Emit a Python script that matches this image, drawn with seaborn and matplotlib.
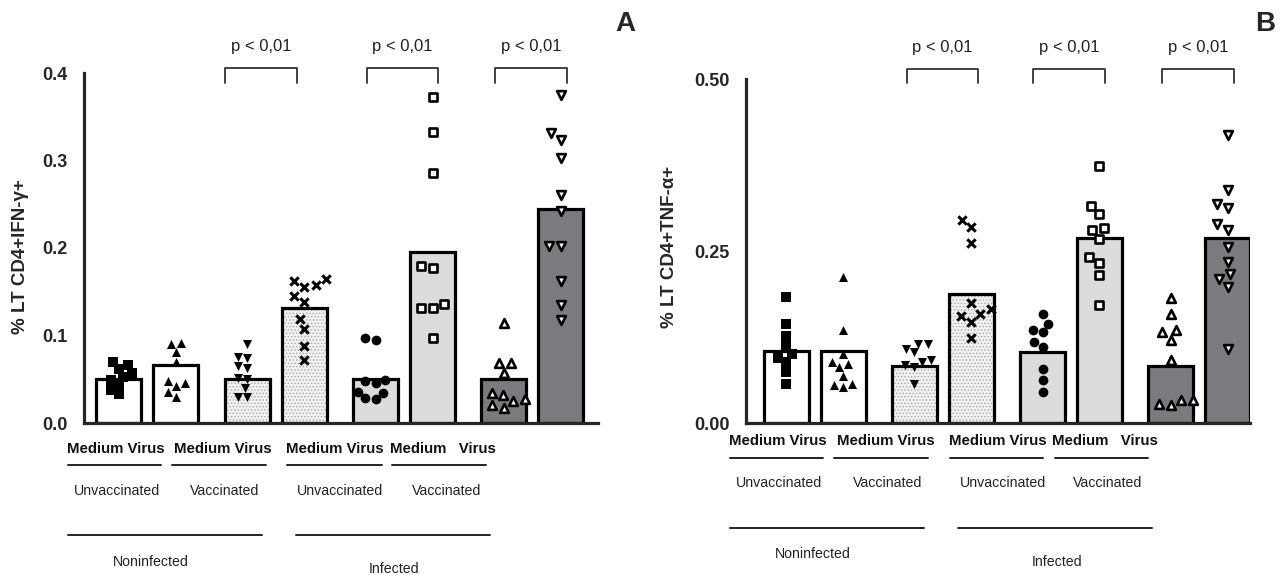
import matplotlib
matplotlib.use("Agg")
import matplotlib.pyplot as plt
import seaborn as sns
from matplotlib.lines import Line2D
from matplotlib import font_manager
from matplotlib.colors import to_rgba

# ---------------- data ----------------
bar_pos = [0, 1, 2.25, 3.25, 4.5, 5.5, 6.75, 7.75]
bar_fill = ['white', 'white', '#f1f1f1', '#f1f1f1', '#dbdcde', '#dbdcde', '#7a7b7e', '#7a7b7e']
bar_stipple = [False, False, True, True, False, False, False, False]
markers = ['s', '^', 'v', 'x', 'o', 's', '^', 'v']
filled = [True, True, True, True, True, False, False, False]

ifn_bars = [0.050, 0.066, 0.050, 0.131, 0.050, 0.196, 0.050, 0.245]
ifn_g1 = [0.070, 0.066, 0.062, 0.057, 0.053, 0.049, 0.044, 0.038, 0.033]
ifn_g2 = [0.092, 0.090, 0.081, 0.070, 0.048, 0.046, 0.042, 0.036, 0.030]
ifn_g3 = [0.090, 0.076, 0.074, 0.065, 0.063, 0.051, 0.050, 0.040, 0.030, 0.030]
ifn_g4 = [0.165, 0.162, 0.158, 0.155, 0.145, 0.138, 0.119, 0.107, 0.088, 0.072]
ifn_g5 = [0.097, 0.095, 0.049, 0.048, 0.046, 0.036, 0.034, 0.029, 0.027]
ifn_g6 = [0.373, 0.333, 0.286, 0.179, 0.177, 0.136, 0.131, 0.131, 0.097]
ifn_g7 = [0.114, 0.069, 0.069, 0.057, 0.034, 0.032, 0.027, 0.025, 0.021, 0.017]
ifn_g8 = [0.375, 0.331, 0.324, 0.303, 0.261, 0.242, 0.202, 0.202, 0.162, 0.135, 0.118]
ifn_points = [ifn_g1, ifn_g2, ifn_g3, ifn_g4, ifn_g5, ifn_g6, ifn_g7, ifn_g8]

tnf_bars = [0.105, 0.105, 0.083, 0.187, 0.103, 0.269, 0.083, 0.269]
tnf_g1 = [0.183, 0.144, 0.126, 0.112, 0.100, 0.094, 0.089, 0.074, 0.057]
tnf_g2 = [0.212, 0.135, 0.101, 0.089, 0.086, 0.081, 0.069, 0.057, 0.055, 0.052]
tnf_g3 = [0.115, 0.115, 0.108, 0.103, 0.091, 0.089, 0.085, 0.081, 0.057]
tnf_g4 = [0.295, 0.285, 0.261, 0.175, 0.165, 0.158, 0.156, 0.147, 0.123]
tnf_g5 = [0.159, 0.144, 0.135, 0.132, 0.118, 0.110, 0.079, 0.062, 0.045]
tnf_g6 = [0.374, 0.316, 0.304, 0.284, 0.281, 0.268, 0.241, 0.232, 0.215, 0.171]
tnf_g7 = [0.181, 0.159, 0.135, 0.132, 0.120, 0.091, 0.033, 0.033, 0.028, 0.026]
tnf_g8 = [0.418, 0.338, 0.319, 0.312, 0.289, 0.280, 0.256, 0.234, 0.217, 0.210, 0.198, 0.108]
tnf_points = [tnf_g1, tnf_g2, tnf_g3, tnf_g4, tnf_g5, tnf_g6, tnf_g7, tnf_g8]

ifn_ticks = [0.0, 0.1, 0.2, 0.3, 0.4]
ifn_ticklabels = ['0.0', '0.1', '0.2', '0.3', '0.4']
tnf_ticks = [0.0, 0.25, 0.5]
tnf_ticklabels = ['0.00', '0.25', '0.50']

pair_labels = ['Medium Virus', 'Medium Virus', 'Medium Virus', 'Medium   Virus']
vacc_labels = ['Unvaccinated', 'Vaccinated', 'Unvaccinated', 'Vaccinated']
infect_labels = ['Noninfected', 'Infected']
p_text = 'p < 0,01'

# ---------------- style ----------------
W, H = 1281, 575
sns.set_style('white')
names = {f.name for f in font_manager.fontManager.ttflist}
narrow = 'Liberation Sans Narrow' in names
lab_family = ['Liberation Sans Narrow' if narrow else 'Liberation Sans', 'DejaVu Sans']
pair_size = 12 if narrow else 10.8
small_size = 11 if narrow else 10.2
plt.rcParams['font.family'] = ['Liberation Sans', 'DejaVu Sans']
plt.rcParams['hatch.linewidth'] = 0.6

fig = plt.figure(figsize=(W / 100, H / 100), dpi=100)


def fx(px):
    return px / W


def fy(py):
    return 1 - py / H


def draw_panel(ax, heights, points, ticks, ticklabels, ylim, xlim, ylabel, label_xy,
               brackets, br_y, p_y):
    sns.barplot(x=bar_pos, y=heights, native_scale=True, width=0.79, color='white',
                edgecolor='black', linewidth=2.3, errorbar=None, ax=ax, zorder=2)
    for patch, fc, st in zip(ax.patches, bar_fill, bar_stipple):
        patch.set_facecolor(fc)
        patch.set_alpha(None)
        if st:
            patch.set_hatch('.....')
            patch._hatch_color = to_rgba('#a9a9a9')

    for i, (vals, x) in enumerate(zip(points, bar_pos)):
        m = markers[i]
        kw = dict(marker=m, zorder=5, ax=ax, native_scale=True)
        if m == 'x':
            kw.update(color='black', linewidth=2.2, size=6)
        elif filled[i]:
            kw.update(color='black', linewidth=0, size=7 if m == 'o' else 6.5)
        else:
            kw.update(color='white', edgecolor='black', linewidth=1.9, size=6.3)
        sns.swarmplot(x=[x] * len(vals), y=vals, **kw)

    ax.set_xlim(*xlim)
    ax.set_ylim(*ylim)
    ax.set_xticks([])
    ax.set_yticks(ticks, labels=ticklabels)
    ax.tick_params(axis='y', direction='in', length=5, width=2, pad=12,
                   labelsize=13)
    for t in ax.get_yticklabels():
        t.set_fontweight('bold')
    sns.despine(ax=ax)
    for s in ['left', 'bottom']:
        ax.spines[s].set_linewidth(2.3)
    ax.set_ylabel(ylabel, fontsize=13.5, fontweight='bold')
    ax.yaxis.label.set_va('center')
    ax.yaxis.set_label_coords(*label_xy)
    ax.set_xlabel('')

    for (x0, x1) in brackets:
        ax.plot([x0, x0, x1, x1], [br_y[0], br_y[1], br_y[1], br_y[0]],
                color='#333333', lw=1.3, clip_on=False)
        ax.text((x0 + x1) / 2, p_y, p_text, ha='center', va='center',
                fontsize=12, color='#222222', clip_on=False)


# panel A
axA = fig.add_axes([fx(84), fy(423), fx(598) - fx(84), fy(73) - fy(423)])
draw_panel(axA, ifn_bars, ifn_points, ifn_ticks, ifn_ticklabels, (0, 0.4), (-0.61, 8.40),
           '% LT CD4+IFN-γ+', (-0.1245, 0.474),
           [(1.86, 3.12), (4.35, 5.60), (6.60, 7.86)], (0.389, 0.406), 0.430)

# panel B
axB = fig.add_axes([fx(746), fy(423), fx(1250) - fx(746), fy(79) - fy(423)])
draw_panel(axB, tnf_bars, tnf_points, tnf_ticks, tnf_ticklabels, (0, 0.5), (-0.71, 8.145),
           '% LT CD4+TNF-α+', (-0.151, 0.512),
           [(2.11, 3.36), (4.33, 5.60), (6.60, 7.87)], (0.494, 0.5145), 0.546)

fig.text(fx(625), fy(24), 'A', fontsize=20, fontweight='bold', ha='center', va='center')
fig.text(fx(1265), fy(24), 'B', fontsize=20, fontweight='bold', ha='center', va='center')

# category labels under each panel (figure pixel layout)
layouts = [
    dict(pair_x=[115.5, 223, 335, 443], pair_y=449,
         under=[(68, 161), (172, 266), (287, 382), (392, 486)], under_y=465,
         vacc_x=[117, 225, 340, 447], vacc_y=491,
         group=[(68, 262), (296, 490)], group_y=535,
         inf_xy=[(151, 562), (394, 569)]),
    dict(pair_x=[778, 885.5, 997.5, 1105], pair_y=441,
         under=[(730, 823), (834, 928), (950, 1043), (1055, 1148)], under_y=458,
         vacc_x=[779, 888, 1003, 1108], vacc_y=483,
         group=[(730, 924), (958, 1152)], group_y=528,
         inf_xy=[(813, 554), (1057, 562)]),
]

for lay in layouts:
    for x, lab in zip(lay['pair_x'], pair_labels):
        fig.text(fx(x), fy(lay['pair_y']), lab, fontsize=pair_size, fontweight='bold',
                 family=lab_family, ha='center', va='center', color='#111111')
    for (x0, x1) in lay['under']:
        fig.add_artist(Line2D([fx(x0), fx(x1)], [fy(lay['under_y'])] * 2,
                              transform=fig.transFigure, color='#222222', lw=1.4))
    for x, lab in zip(lay['vacc_x'], vacc_labels):
        fig.text(fx(x), fy(lay['vacc_y']), lab, fontsize=small_size,
                 family=lab_family, ha='center', va='center', color='#222222')
    for (x0, x1) in lay['group']:
        fig.add_artist(Line2D([fx(x0), fx(x1)], [fy(lay['group_y'])] * 2,
                              transform=fig.transFigure, color='#222222', lw=1.4))
    for (x, y), lab in zip(lay['inf_xy'], infect_labels):
        fig.text(fx(x), fy(y), lab, fontsize=small_size,
                 family=lab_family, ha='center', va='center', color='#222222')

fig.savefig('out.png', dpi=100)
